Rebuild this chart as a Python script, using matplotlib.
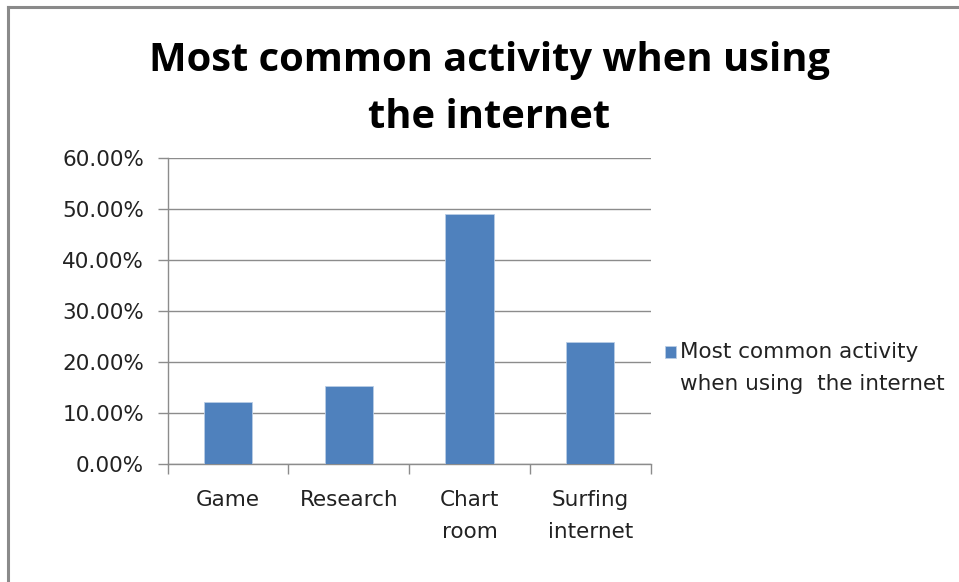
import matplotlib
matplotlib.use("Agg")
import matplotlib.pyplot as plt
from matplotlib.ticker import FuncFormatter, MultipleLocator
from matplotlib.patches import Rectangle
from matplotlib.legend_handler import HandlerPatch, update_from_first_child

categories = ["Game", "Research", "Chart\nroom", "Surfing\ninternet"]
values = [12.1, 15.35, 49.0, 23.9]
series_name = "Most common activity\nwhen using  the internet"
title = "Most common activity when using\nthe internet"

plt.rcParams['font.family'] = ['DejaVu Sans']

fig = plt.figure(figsize=(9.59, 5.82), dpi=100)
fig.patch.set_facecolor("white")

# figure border (top and left visible)
fig.add_artist(plt.Line2D([8/959, 1.0], [1 - 7/582, 1 - 7/582], transform=fig.transFigure,
                          color="#8a8a8a", lw=2.2))
fig.add_artist(plt.Line2D([8/959, 8/959], [0.0, 1 - 7/582], transform=fig.transFigure,
                          color="#8a8a8a", lw=2.2))

ax = fig.add_axes([167.7/959, 1 - 464/582, (650.7 - 167.7)/959, (464 - 157.7)/582])
x = list(range(len(categories)))
bars = ax.bar(x, values, width=0.4, color="#4F81BD", edgecolor="#b9cde5", linewidth=0.6,
              label=series_name, zorder=3)

ax.set_xlim(-0.5, len(categories) - 0.5)
ax.set_ylim(0, 60)
ax.yaxis.set_major_locator(MultipleLocator(10))
ax.yaxis.set_major_formatter(FuncFormatter(lambda v, p: f"{v:.2f}%"))
ax.grid(axis="y", color="#8c8c8c", linewidth=1.0, zorder=0)
ax.set_axisbelow(True)

for s in ["top", "right"]:
    ax.spines[s].set_visible(False)
for s in ["left", "bottom"]:
    ax.spines[s].set_color("#8c8c8c")
    ax.spines[s].set_linewidth(1.0)

FS = 15.5
ax.set_xticks([i - 0.5 for i in range(len(categories) + 1)], minor=False)
ax.set_xticklabels([])
ax.set_xticks(x, minor=True)
ax.set_xticklabels(categories, minor=True, fontsize=FS, color="#222222", linespacing=1.7, va="top")
ax.tick_params(axis="x", which="major", length=7, width=1, color="#8c8c8c", direction="out")
ax.tick_params(axis="x", which="minor", length=0, pad=19)
ax.tick_params(axis="y", which="major", length=7, width=1, color="#8c8c8c", direction="out",
               labelsize=FS, labelcolor="#222222", pad=10)

fig.text(489/959, 1 - 89/582, title, ha="center", va="center", fontsize=28.7,
         fontweight="bold", linespacing=1.58, color="black",
         family=["Open Sans", "DejaVu Sans"])


def top_square(legend, orig_handle, xdescent, ydescent, width, height, fontsize):
    return Rectangle((-xdescent, -ydescent + 0.75 * fontsize), width, height)


leg = ax.legend(loc="center left", bbox_to_anchor=(665/959, 1 - 368/582),
                bbox_transform=fig.transFigure, frameon=False, fontsize=FS,
                handlelength=0.5, handleheight=0.5, handletextpad=0.2,
                borderaxespad=0, borderpad=0,
                handler_map={type(bars): HandlerPatch(patch_func=top_square,
                                                      update_func=update_from_first_child)})
for t in leg.get_texts():
    t.set_color("#222222")
    t.set_linespacing(1.7)

fig.savefig("out.png", dpi=100, facecolor="white")
